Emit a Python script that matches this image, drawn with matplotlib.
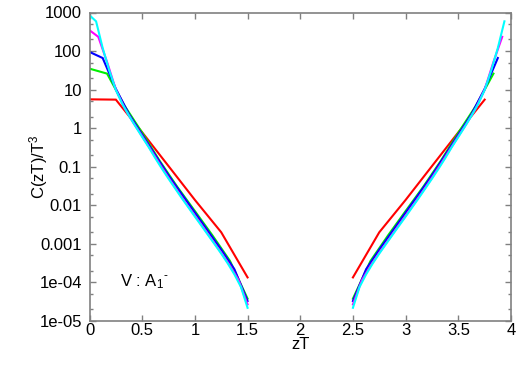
import numpy as np
import matplotlib
matplotlib.use("Agg")
import matplotlib.pyplot as plt
from matplotlib.ticker import FixedLocator, NullFormatter, NullLocator

plt.rcParams['font.family'] = ['Liberation Sans', 'DejaVu Sans']
plt.rcParams['mathtext.fontset'] = 'custom'
plt.rcParams['mathtext.rm'] = 'Liberation Sans'
plt.rcParams['mathtext.it'] = 'Liberation Sans'

# Lattice spacings (zT step) of each series
step_red = 1 / 4
step_green = 1 / 6
step_blue = 1 / 8
step_magenta = 1 / 12
step_cyan = 1 / 16

# C(zT)/T^3 for zT = 0, step, 2*step, ..., 1.5
c_red = [5.6, 5.5, 0.78, 0.104, 0.0138, 0.0020, 1.35e-4]
c_green = [35, 26, 3.8, 0.76, 0.141, 0.030, 0.0071, 0.00166, 3.6e-4, 3.8e-5]
c_blue = [95, 66, 10.5, 2.3, 0.68, 0.20, 0.060, 0.0195, 0.0065, 0.00214,
          7.1e-4, 2.2e-4, 3.3e-5]
c_magenta = [347, 234, 52, 10, 3.3, 1.38, 0.62, 0.27, 0.117, 0.052, 0.024,
             0.0112, 0.0054, 0.0026, 0.00123, 5.9e-4, 2.7e-4, 1.12e-4, 2.7e-5]
c_cyan = [850, 590, 120, 31.6, 9.8, 4.2, 2.1, 1.1, 0.59, 0.32, 0.166, 0.089,
          0.049, 0.0275, 0.0155, 0.0089, 0.0051, 0.00295, 0.0017, 9.8e-4,
          5.6e-4, 3.1e-4, 1.62e-4, 7.6e-5, 2.2e-5]

period = 4.0
series = [
    (step_red, c_red, '#ff0000'),
    (step_green, c_green, '#00f000'),
    (step_blue, c_blue, '#0000ff'),
    (step_magenta, c_magenta, '#ff00ff'),
    (step_cyan, c_cyan, '#00ffff'),
]

ytick_vals = [1e-5, 1e-4, 1e-3, 1e-2, 1e-1, 1, 10, 100, 1000]
ytick_labels = ['1e-05', '1e-04', '0.001', '0.01', '0.1', '1', '10', '100', '1000']
xtick_vals = [0, 0.5, 1, 1.5, 2, 2.5, 3, 3.5, 4]
xtick_labels = ['0', '0.5', '1', '1.5', '2', '2.5', '3', '3.5', '4']

fig = plt.figure(figsize=(5.28, 3.78), dpi=100)
ax = fig.add_axes([89.5 / 528, 1 - 321 / 378, (511 - 89.5) / 528, (321 - 12.5) / 378])

for step, vals, col in series:
    vals = np.array(vals)
    z = step * np.arange(len(vals))
    lw = 1.5
    ax.plot(z, vals, color=col, lw=lw, solid_joinstyle='miter')
    # periodic image on the other side (zT -> 4 - zT), without the contact point
    ax.plot(period - z[1:], vals[1:], color=col, lw=lw, solid_joinstyle='miter')

ax.set_yscale('log')
ax.set_xlim(0, 4)
ax.set_ylim(1e-5, 1000)

ax.yaxis.set_major_locator(FixedLocator(ytick_vals))
ax.set_yticklabels(ytick_labels)
minor = []
for e in range(-5, 3):
    minor += [2 * 10.0 ** e, 5 * 10.0 ** e]
ax.yaxis.set_minor_locator(FixedLocator(minor))
ax.yaxis.set_minor_formatter(NullFormatter())
ax.xaxis.set_major_locator(FixedLocator(xtick_vals))
ax.set_xticklabels(xtick_labels)
ax.xaxis.set_minor_locator(NullLocator())

frame_col = '#808080'
for s in ax.spines.values():
    s.set_color(frame_col)
    s.set_linewidth(1.2)
ax.tick_params(which='major', direction='in', length=4.5, width=1.0, color=frame_col,
               top=True, right=True, labelsize=12, labelcolor='black')
ax.tick_params(axis='y', which='major', pad=5.5)
ax.tick_params(axis='x', which='major', pad=1.5)
ax.tick_params(which='minor', direction='in', length=2.5, width=1.0, color=frame_col,
               top=False, right=True)

ax.set_xlabel('zT', fontsize=12)
ax.xaxis.set_label_coords(0.5, -0.052)
ax.set_ylabel('C(zT)/T$^3$', fontsize=12, va='center')
ax.yaxis.set_label_coords(-0.122, 0.5)

txt = ax.text(0.29, 1.05e-4, 'V : A$_1$$^{‐}$', fontsize=12, ha='left', va='center')

fig.savefig('out.png', dpi=100)
